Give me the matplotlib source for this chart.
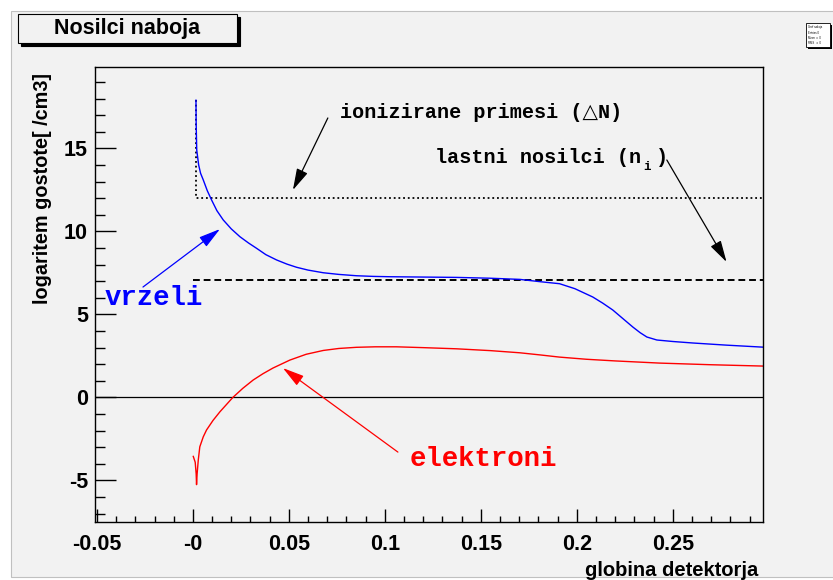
import matplotlib
matplotlib.use("Agg")
import matplotlib.pyplot as plt
from matplotlib.patches import Rectangle
from matplotlib.ticker import FixedLocator, MultipleLocator

W, H = 833, 580

# hole concentration (vrzeli), log10 of density
depth_h = [0.0016, 0.0017, 0.0020, 0.0030, 0.0040, 0.0054, 0.0075, 0.0097, 0.0125,
           0.0158, 0.0200, 0.0245, 0.0290, 0.0332, 0.0380, 0.0436, 0.0490, 0.0540,
           0.0600, 0.0679, 0.0760, 0.0852, 0.0940, 0.1026, 0.1200, 0.1373, 0.1550,
           0.1703, 0.1810, 0.1910, 0.1990, 0.2083, 0.2135, 0.2187, 0.2240, 0.2292,
           0.2330, 0.2365, 0.2417, 0.2500, 0.2604, 0.2780, 0.2953, 0.2970]
log_h = [17.9, 16.5, 14.9, 14.0, 13.5, 13.1, 12.45, 11.9, 11.25,
         10.69, 10.15, 9.68, 9.3, 8.98, 8.6, 8.28, 8.03, 7.84,
         7.67, 7.51, 7.41, 7.33, 7.29, 7.27, 7.25, 7.23, 7.18,
         7.11, 6.97, 6.85, 6.55, 6.05, 5.68, 5.27, 4.75, 4.24,
         3.9, 3.64, 3.46, 3.37, 3.28, 3.15, 3.04, 3.03]

# electron concentration (elektroni)
depth_e = [0.0002, 0.0012, 0.0017, 0.0019, 0.0022, 0.0028, 0.0036, 0.0054, 0.0071,
           0.0105, 0.0141, 0.0208, 0.0260, 0.0314, 0.0365, 0.0417, 0.0505, 0.0590,
           0.0679, 0.0760, 0.0852, 0.0950, 0.1060, 0.1200, 0.1373, 0.1550, 0.1703,
           0.1810, 0.1910, 0.2050, 0.2200, 0.2430, 0.2700, 0.2970]
log_e = [-3.55, -3.9, -4.6, -5.25, -4.6, -3.77, -2.97, -2.37, -1.96,
         -1.38, -0.86, 0.0, 0.55, 1.05, 1.43, 1.77, 2.25, 2.6,
         2.83, 2.95, 3.02, 3.05, 3.05, 3.0, 2.93, 2.82, 2.69,
         2.56, 2.43, 2.3, 2.2, 2.07, 1.97, 1.89]

# ionised impurities and intrinsic carriers
donor_x = [0.0016, 0.0016, 0.297]
donor_y = [17.9, 12.0, 12.0]
ni_x = [0.0, 0.297]
ni_y = [7.05, 7.05]

xticks = [-0.05, 0.0, 0.05, 0.1, 0.15, 0.2, 0.25]
xlabels = ["-0.05", "-0", "0.05", "0.1", "0.15", "0.2", "0.25"]
yticks = [-5, 0, 5, 10, 15]
ylabels = ["-5", "0", "5", "10", "15"]

SANS = "Liberation Sans"
MONO = ["Liberation Mono", "DejaVu Sans"]
BG = "#f2f2f2"


def fpx(x, y):
    return x / W, 1 - y / H


fig = plt.figure(figsize=(W / 100, H / 100), dpi=100)
fig.patch.set_facecolor("white")

# canvas
x0, y0 = fpx(11, 577)
x1, y1 = fpx(834, 11)
fig.patches.append(Rectangle((x0, y0), x1 - x0, y1 - y0, transform=fig.transFigure,
                             facecolor=BG, edgecolor="#c0c0c0", lw=0.8, zorder=-5))

# title box with shadow
bx, by = fpx(18, 43)
bw, bh = 219 / W, 29 / H
fig.patches.append(Rectangle((bx + 3 / W, by - 3 / H), bw, bh, transform=fig.transFigure,
                             facecolor="black", edgecolor="black", lw=0.8, zorder=1))
fig.patches.append(Rectangle((bx, by), bw, bh, transform=fig.transFigure,
                             facecolor=BG, edgecolor="black", lw=0.8, zorder=2))
fig.text(bx + bw / 2, by + bh / 2, "Nosilci naboja", family=SANS, weight="bold",
         fontsize=15.5, ha="center", va="center", zorder=3)

# small stats box
sx, sy = fpx(806, 47)
sw, sh = 24 / W, 24 / H
fig.patches.append(Rectangle((sx + 2 / W, sy - 2 / H), sw, sh, transform=fig.transFigure,
                             facecolor="black", lw=0, zorder=1))
fig.patches.append(Rectangle((sx, sy), sw, sh, transform=fig.transFigure,
                             facecolor="white", edgecolor="black", lw=0.6, zorder=2))
for i, s in enumerate(["Graf naboja", "Entries 0", "Mean  x  0", "RMS   x  0"]):
    fig.text(sx + 1.5 / W, sy + sh - (4 + 5.5 * i) / H, s, fontsize=2, family=SANS,
             va="center", zorder=3)

ax = fig.add_axes([95 / W, 1 - 522 / H, (763 - 95) / W, (522 - 67) / H])
ax.set_facecolor(BG)
ax.set_xlim(-0.051, 0.297)
ax.set_ylim(-7.5, 19.9)

ax.axhline(0, color="black", lw=0.9)
ax.plot(donor_x, donor_y, color="black", lw=1.3, linestyle=(0, (1, 1.6)))
ax.plot(ni_x, ni_y, color="black", lw=1.4, linestyle=(0, (3.5, 2)))
ax.plot(depth_h, log_h, color="blue", lw=1.0)
ax.plot(depth_e, log_e, color="red", lw=1.0)

for sp in ax.spines.values():
    sp.set_linewidth(1.0)

ax.xaxis.set_major_locator(FixedLocator(xticks))
ax.set_xticklabels(xlabels)
ax.xaxis.set_minor_locator(MultipleLocator(0.01))
ax.yaxis.set_major_locator(FixedLocator(yticks))
ax.set_yticklabels(ylabels)
ax.yaxis.set_minor_locator(MultipleLocator(1))
ax.tick_params(which="both", direction="in", top=False, right=False, width=1.0)
ax.tick_params(axis="y", which="major", length=15, pad=5)
ax.tick_params(axis="y", which="minor", length=7.5)
ax.tick_params(axis="x", which="major", length=9.5, pad=9)
ax.tick_params(axis="x", which="minor", length=4.5)
for lab in ax.get_xticklabels() + ax.get_yticklabels():
    lab.set_family(SANS)
    lab.set_weight("bold")
    lab.set_fontsize(15.5)

fig.text(*fpx(43, 73), "logaritem gostote[ /cm3]", rotation=90, family=SANS,
         weight="bold", fontsize=14.3, ha="center", va="top")
fig.text(*fpx(758, 570), "globina detektorja", family=SANS, weight="bold",
         fontsize=14.5, ha="right", va="center")

# annotations
arrow = dict(arrowstyle="-|>,head_length=1.1,head_width=0.3", lw=0.9,
             shrinkA=0, shrinkB=0, mutation_scale=12)

ax.text(0.0766, 17.13, "ionizirane primesi (\u25b3N)", family=MONO, weight="bold",
        fontsize=14.5, va="center", ha="left")
ax.annotate("", xy=(0.0521, 12.49), xytext=(0.0703, 16.83),
            arrowprops=dict(arrow, color="black"))

ax.text(0.126, 14.48, "lastni nosilci (n", family=MONO, weight="bold",
        fontsize=14.5, va="center", ha="left")
ax.text(0.2344, 13.85, "i", family=MONO, weight="bold", fontsize=9,
        va="center", ha="left")
ax.text(0.2412, 14.48, ")", family=MONO, weight="bold", fontsize=14.5,
        va="center", ha="left")
ax.annotate("", xy=(0.278, 8.16), xytext=(0.2469, 14.3),
            arrowprops=dict(arrow, color="black"))

ax.text(-0.0458, 5.99, "vrzeli", family=MONO, weight="bold", fontsize=19.7,
        color="blue", va="center", ha="left")
ax.annotate("", xy=(0.0141, 10.14), xytext=(-0.026, 6.65),
            arrowprops=dict(arrow, color="blue"))

ax.text(0.113, -3.71, "elektroni", family=MONO, weight="bold", fontsize=19.7,
        color="red", va="center", ha="left")
ax.annotate("", xy=(0.0469, 1.77), xytext=(0.1068, -3.29),
            arrowprops=dict(arrow, color="red"))

fig.savefig("out.png", dpi=100, facecolor=fig.get_facecolor())
